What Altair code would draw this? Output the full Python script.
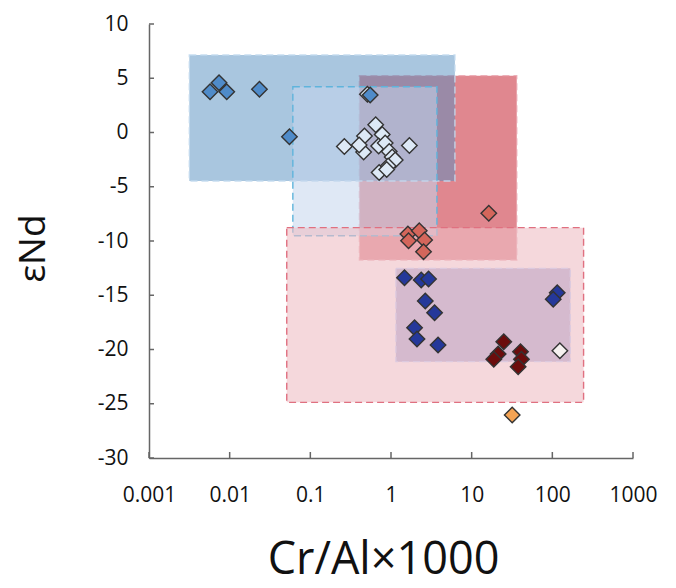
import altair as alt
import pandas as pd

# ---------------- data ----------------
light_x = [0.51, 0.264, 0.646, 0.469, 0.778, 0.458, 0.403, 0.703, 0.847, 0.951, 1.035, 1.128, 0.922, 0.713, 0.885, 1.69]
light_y = [3.52, -1.29, 0.72, -0.32, -0.18, -1.80, -1.15, -1.24, -0.97, -1.75, -2.26, -2.53, -3.09, -3.69, -3.41, -1.20]
blue_x = [0.00571, 0.00738, 0.0092, 0.0234, 0.0551, 0.552]
blue_y = [3.76, 4.59, 3.76, 3.98, -0.39, 3.46]
salmon_x = [1.62, 2.24, 1.65, 2.61, 2.53, 16.3]
salmon_y = [-9.35, -9.05, -9.97, -9.91, -10.99, -7.45]
navy_x = [1.47, 2.37, 2.92, 2.66, 3.47, 1.96, 2.10, 3.83, 115, 102.6]
navy_y = [-13.38, -13.59, -13.50, -15.53, -16.61, -17.99, -19.03, -19.59, -14.76, -15.37]
maroon_x = [25.0, 21.3, 18.8, 40.3, 41.4, 37.7]
maroon_y = [-19.28, -20.41, -20.90, -20.20, -20.90, -21.58]
white_x = [124]
white_y = [-20.11]
orange_x = [31.8]
orange_y = [-26.04]

# field rectangles: [x_min, x_max, y_min, y_max]
rect_red = [0.406, 36.2, -11.75, 5.24]
rect_blue = [0.00316, 6.2, -4.47, 7.14]
rect_light = [0.0607, 3.71, -9.51, 4.22]
rect_pink = [0.051, 244, -24.87, -8.77]
rect_purple = [1.15, 167, -21.12, -12.52]

x_ticks = [0.001, 0.01, 0.1, 1, 10, 100, 1000]
y_ticks = [-30, -25, -20, -15, -10, -5, 0, 5, 10]

groups = ["light", "blue", "salmon", "navy", "maroon", "white", "orange"]
colors = ["#dde9f6", "#4f8bc9", "#d4665b", "#25389a", "#6b0d0d", "#f6f2f0", "#f4a353"]

# ---------------- build tables ----------------
series = [
    ("light", light_x, light_y),
    ("blue", blue_x, blue_y),
    ("salmon", salmon_x, salmon_y),
    ("navy", navy_x, navy_y),
    ("maroon", maroon_x, maroon_y),
    ("white", white_x, white_y),
    ("orange", orange_x, orange_y),
]
rows = []
for g, xs_, ys_ in series:
    for a, b in zip(xs_, ys_):
        rows.append({"x": a, "y": b, "group": g})
pts = pd.DataFrame(rows)

W, H = 484, 434
FONT = "Open Sans"

xs = alt.Scale(type="log", domain=[0.001, 1000], nice=False)
ys = alt.Scale(domain=[-30, 10], nice=False, zero=False)

xaxis = alt.Axis(
    values=x_ticks, labelExpr="'' + datum.value", ticks=False, tickSize=0, grid=False,
    domainColor="#666666", domainWidth=1.5, labelFont=FONT, labelFontSize=21,
    labelColor="#111111", labelPadding=26, labelFlush=False, labelOverlap=False,
    title="Cr/Al×1000", titleFont=FONT, titleFontSize=45, titleFontWeight="normal",
    titleColor="#111111", titleX=234, titleY=115, titleBaseline="alphabetic",
    titleAlign="center",
)
yaxis = alt.Axis(
    values=y_ticks, labelExpr="'' + datum.value", ticks=False, tickSize=0, grid=False,
    domainColor="#666666", domainWidth=1.5, labelFont=FONT, labelFontSize=21,
    labelColor="#111111", labelPadding=21, labelFlush=False, labelOverlap=False,
    title="εNd", titleFont=FONT, titleFontSize=37, titleFontWeight="normal",
    titleColor="#111111", titleAngle=270, titleX=-105, titleY=224,
    titleBaseline="alphabetic", titleAlign="center",
)


def rect_layer(b, fill, fop, stroke, sop=1.0):
    df = pd.DataFrame([{"x0": b[0], "x1": b[1], "y0": b[2], "y1": b[3]}])
    return alt.Chart(df).mark_rect(
        fill=fill, fillOpacity=fop, stroke=stroke, strokeOpacity=sop,
        strokeDash=[7, 4], strokeWidth=1.4,
    ).encode(
        x=alt.X("x0:Q", scale=xs, axis=xaxis),
        x2=alt.X2("x1"),
        y=alt.Y("y0:Q", scale=ys, axis=yaxis),
        y2=alt.Y2("y1"),
    )


r_red = rect_layer(rect_red, "#cb3744", 0.6, "#e9a3ad", 0.8)
r_blue = rect_layer(rect_blue, "#538dbf", 0.5, "#c3daee", 0.9)
r_light = rect_layer(rect_light, "#c4d6ec", 0.55, "#5fb4dc", 1.0)
r_pink = rect_layer(rect_pink, "#eebec5", 0.6, "#e07080", 1.0)
r_purple = rect_layer(rect_purple, "#b59cc0", 0.5, "#dccbe0", 0.9)

xt = alt.Chart(pd.DataFrame({"v": x_ticks})).mark_rule(color="#666666", strokeWidth=1.5).encode(
    x=alt.X("v:Q", scale=xs, axis=xaxis), y=alt.value(H), y2=alt.value(H - 6)
)
yt = alt.Chart(pd.DataFrame({"v": y_ticks})).mark_rule(color="#666666", strokeWidth=1.5).encode(
    y=alt.Y("v:Q", scale=ys, axis=yaxis), x=alt.value(0), x2=alt.value(5)
)

points = alt.Chart(pts).mark_point(
    shape="diamond", filled=True, size=240, stroke="#333333", strokeWidth=1.4, opacity=1
).encode(
    x=alt.X("x:Q", scale=xs, axis=xaxis),
    y=alt.Y("y:Q", scale=ys, axis=yaxis),
    fill=alt.Fill("group:N", scale=alt.Scale(domain=groups, range=colors), legend=None),
)

chart = alt.layer(r_red, r_blue, r_light, r_pink, r_purple, xt, yt, points).properties(
    width=W, height=H,
    padding={"left": 141, "top": 16, "right": 35, "bottom": 118},
    autosize=alt.AutoSizeParams(type="none"),
    background="white",
).configure_view(stroke=None)

chart.save("out.html", embed_options={"renderer": "svg", "actions": False})
